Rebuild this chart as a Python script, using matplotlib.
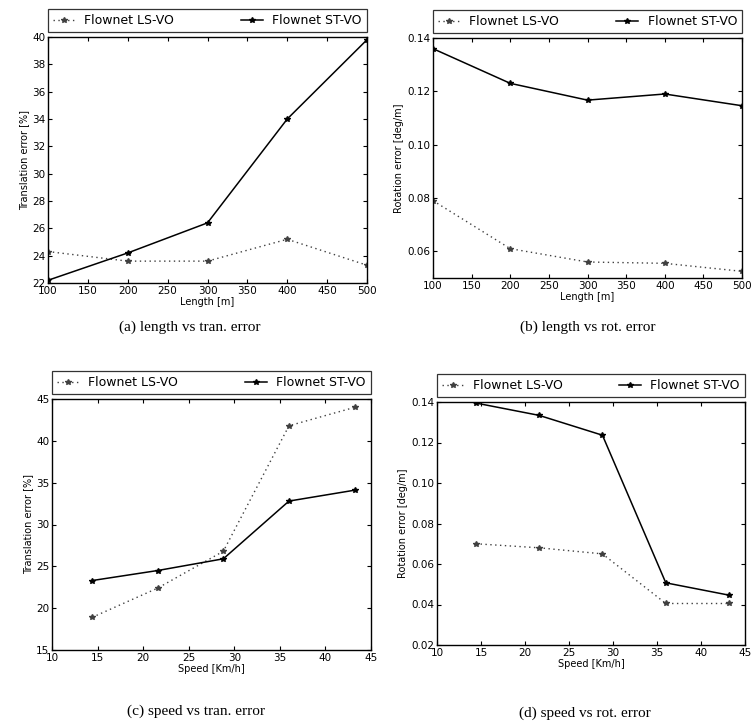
import numpy as np
import matplotlib
matplotlib.use("Agg")
import matplotlib.pyplot as plt

# data
length = [100, 200, 300, 400, 500]
speed = [14.4, 21.6, 28.8, 36.0, 43.2]

len_tran_ls = [24.3, 23.6, 23.6, 25.2, 23.3]
len_tran_st = [22.2, 24.2, 26.4, 34.0, 39.8]

len_rot_ls = [0.079, 0.061, 0.056, 0.0555, 0.0525]
len_rot_st = [0.136, 0.123, 0.1167, 0.119, 0.1146]

spd_tran_ls = [18.9, 22.4, 26.8, 41.8, 44.0]
spd_tran_st = [23.3, 24.5, 25.9, 32.8, 34.1]

spd_rot_ls = [0.070, 0.068, 0.065, 0.0405, 0.0405]
spd_rot_st = [0.1395, 0.1334, 0.1236, 0.0507, 0.0446]

labels = ["Flownet LS-VO", "Flownet ST-VO"]
captions = ["(a) length vs tran. error", "(b) length vs rot. error",
            "(c) speed vs tran. error", "(d) speed vs rot. error"]

W, H = 753, 727
fig = plt.figure(figsize=(W / 100, H / 100), dpi=100)

def px_axes(l, t, r, b):
    return fig.add_axes([l / W, 1 - b / H, (r - l) / W, (b - t) / H])

def panel(ax, x, ls, st, xlim, ylim, yticks, xlabel, ylabel, yfmt):
    ax.plot(x, ls, linestyle=(0, (1, 2.5)), color="0.25", lw=1.0,
            marker="*", ms=4, label=labels[0])
    ax.plot(x, st, linestyle="-", color="black", lw=1.1,
            marker="*", ms=4, label=labels[1])
    ax.set_xlim(*xlim)
    ax.set_ylim(*ylim)
    ax.set_yticks(yticks)
    ax.set_yticklabels([yfmt.format(v) for v in yticks])
    ax.set_xlabel(xlabel, fontsize=7, labelpad=1)
    ax.set_ylabel(ylabel, fontsize=7, labelpad=2)
    ax.tick_params(direction="in", top=True, right=True, labelsize=7.5,
                   length=3, pad=2)
    for s in ax.spines.values():
        s.set_linewidth(1.0)
    leg = ax.legend(loc="lower left", bbox_to_anchor=(0, 1.02, 1, 0.1),
                    mode="expand", ncol=2, fontsize=9, frameon=True,
                    fancybox=False, borderaxespad=0, handlelength=1.7,
                    borderpad=0.4)
    leg.get_frame().set_edgecolor("black")
    leg.get_frame().set_linewidth(0.9)

ax1 = px_axes(48, 37, 367, 283)
panel(ax1, length, len_tran_ls, len_tran_st, (100, 500), (22, 40),
      np.arange(22, 41, 2), "Length [m]", "Translation error [%]", "{:.0f}")
ax1.set_xticks(np.arange(100, 501, 50))

ax2 = px_axes(433, 38, 742, 278)
panel(ax2, length, len_rot_ls, len_rot_st, (100, 500), (0.05, 0.14),
      [0.06, 0.08, 0.10, 0.12, 0.14], "Length [m]", "Rotation error [deg/m]", "{:.2f}")
ax2.set_xticks(np.arange(100, 501, 50))

ax3 = px_axes(52, 399, 371, 650)
panel(ax3, speed, spd_tran_ls, spd_tran_st, (10, 45), (15, 45),
      np.arange(15, 46, 5), "Speed [Km/h]", "Translation error [%]", "{:.0f}")
ax3.set_xticks(np.arange(10, 46, 5))

ax4 = px_axes(437, 402, 745, 645)
panel(ax4, speed, spd_rot_ls, spd_rot_st, (10, 45), (0.02, 0.14),
      [0.02, 0.04, 0.06, 0.08, 0.10, 0.12, 0.14], "Speed [Km/h]",
      "Rotation error [deg/m]", "{:.2f}")
ax4.set_xticks(np.arange(10, 46, 5))

cap_pos = [(190, 327), (588, 327), (196, 711), (585, 713)]
for (cx, cy), c in zip(cap_pos, captions):
    fig.text(cx / W, 1 - cy / H, c, ha="center", va="center",
             fontsize=11, family="Liberation Serif")

fig.savefig("out.png", dpi=100)
